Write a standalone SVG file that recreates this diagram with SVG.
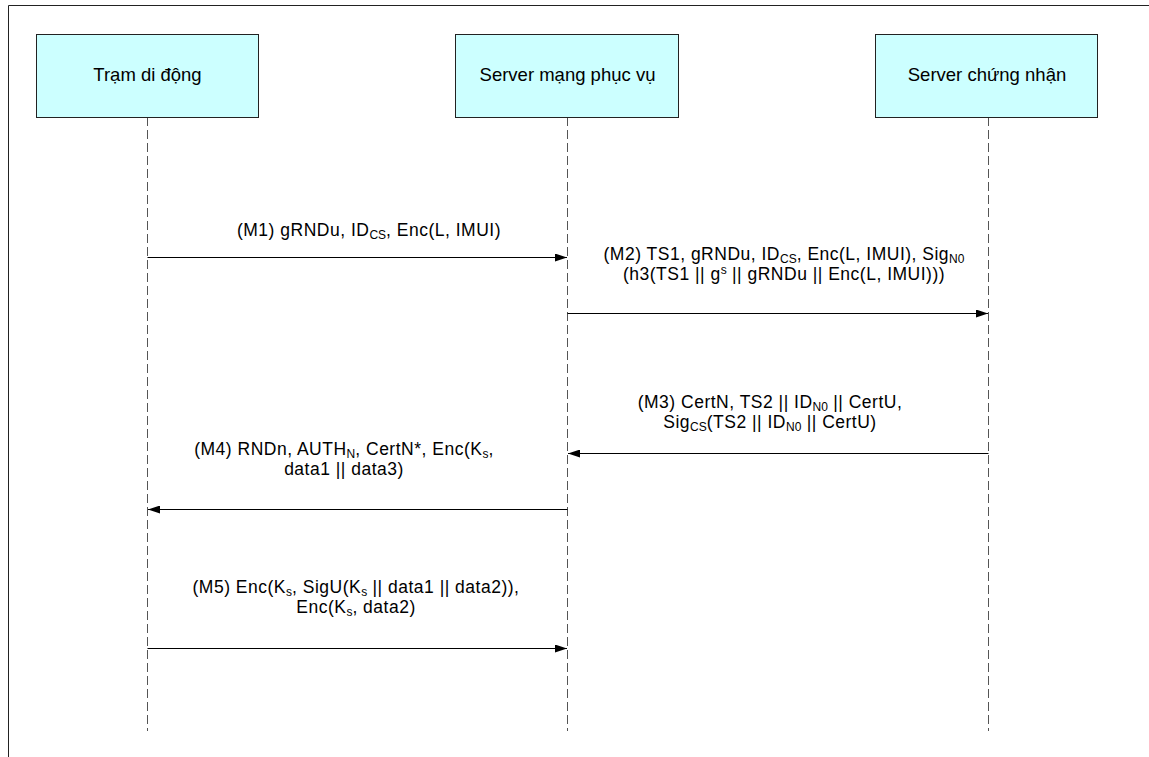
<svg xmlns="http://www.w3.org/2000/svg" width="1149" height="757" viewBox="0 0 1149 757">
<defs>
<style>
.box{fill:#ccffff;stroke:#222;stroke-width:1}
.life{stroke:#555;stroke-width:1;stroke-dasharray:9 4;fill:none}
.msg{stroke:#000;stroke-width:1;fill:none;marker-end:url(#ah)}
text{font-family:"Liberation Sans",Arial,sans-serif;font-size:17.5px;letter-spacing:0.5px;fill:#000}
.node{font-size:18.5px;letter-spacing:0}
.lbl{text-anchor:middle}
.sub{font-size:12px;letter-spacing:0}
</style>
<marker id="ah" viewBox="0 0 12 8" refX="12" refY="4" markerWidth="12" markerHeight="8" markerUnits="userSpaceOnUse" orient="auto">
<path d="M0,0 L12,4 L0,8 Z" fill="#000"/>
</marker>
</defs>
<rect width="1149" height="757" fill="#fff"/>
<path d="M8.5,757 V5.5 H1149" fill="none" stroke="#222" stroke-width="1"/>
<g id="lifelines">
<line class="life" x1="147.5" y1="117" x2="147.5" y2="731"/>
<line class="life" x1="567.5" y1="117" x2="567.5" y2="731"/>
<line class="life" x1="988.5" y1="117" x2="988.5" y2="731"/>
</g>
<g id="node-tram">
<rect class="box" x="36.5" y="34.5" width="222" height="83"/>
<text class="lbl node" x="147.5" y="81">Trạm di động</text>
</g>
<g id="node-server-mang">
<rect class="box" x="455.5" y="34.5" width="223" height="83"/>
<text class="lbl node" x="567.5" y="81">Server mạng phục vụ</text>
</g>
<g id="node-server-chung-nhan">
<rect class="box" x="875.5" y="34.5" width="222" height="83"/>
<text class="lbl node" x="987" y="81">Server chứng nhận</text>
</g>
<g id="connectors">
<line class="msg" x1="147.5" y1="257.5" x2="567" y2="257.5"/>
<line class="msg" x1="567.5" y1="313.5" x2="988" y2="313.5"/>
<line class="msg" x1="988.5" y1="453.5" x2="568" y2="453.5"/>
<line class="msg" x1="567.5" y1="509.5" x2="148" y2="509.5"/>
<line class="msg" x1="147.5" y1="648.5" x2="567" y2="648.5"/>
</g>
<g id="labels">
<text class="lbl" x="369" y="235.5">(M1) gRNDu, ID<tspan class="sub" baseline-shift="-3">CS</tspan>, Enc(L, IMUI)</text>
<text class="lbl" x="784" y="260">(M2) TS1, gRNDu, ID<tspan class="sub" baseline-shift="-3">CS</tspan>, Enc(L, IMUI), Sig<tspan class="sub" baseline-shift="-3">N0</tspan></text>
<text class="lbl" x="784" y="280">(h3(TS1 || g<tspan class="sub" baseline-shift="6">s</tspan> || gRNDu || Enc(L, IMUI)))</text>
<text class="lbl" x="770" y="408">(M3) CertN, TS2 || ID<tspan class="sub" baseline-shift="-3">N0</tspan> || CertU,</text>
<text class="lbl" x="770" y="428">Sig<tspan class="sub" baseline-shift="-3">CS</tspan>(TS2 || ID<tspan class="sub" baseline-shift="-3">N0</tspan> || CertU)</text>
<text class="lbl" x="344" y="455">(M4) RNDn, AUTH<tspan class="sub" baseline-shift="-3">N</tspan>, CertN*, Enc(K<tspan class="sub" baseline-shift="-3">s</tspan>,</text>
<text class="lbl" x="344" y="475">data1 || data3)</text>
<text class="lbl" x="356" y="593">(M5) Enc(K<tspan class="sub" baseline-shift="-3">s</tspan>, SigU(K<tspan class="sub" baseline-shift="-3">s</tspan> || data1 || data2)),</text>
<text class="lbl" x="356" y="613">Enc(K<tspan class="sub" baseline-shift="-3">s</tspan>, data2)</text>
</g>
</svg>
